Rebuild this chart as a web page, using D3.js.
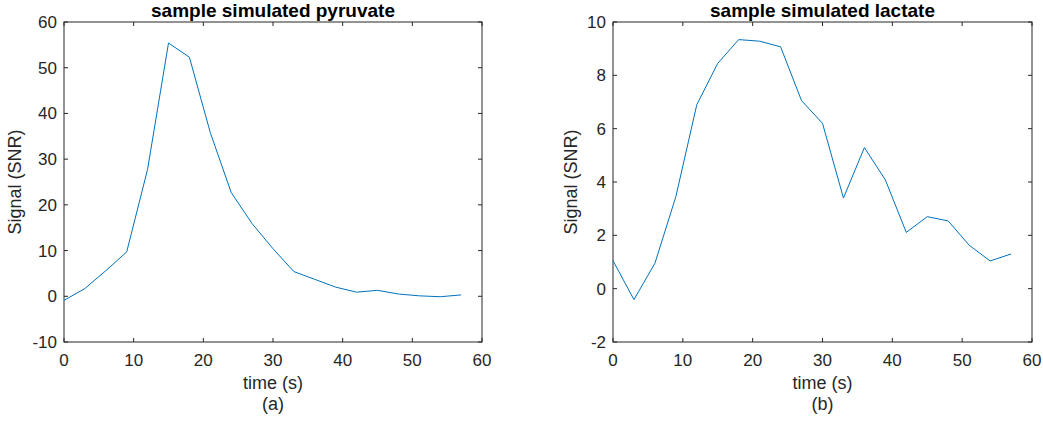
<!DOCTYPE html>
<html>
<head>
<meta charset="utf-8">
<script src="https://cdn.jsdelivr.net/npm/d3@7"></script>
<style>
  body { margin: 0; background: #fff; }
  svg { font-family: "Liberation Sans", Arial, sans-serif; }
</style>
</head>
<body>
<svg width="1043" height="423"></svg>
<script>
// time points (s)
const time = [0, 3, 6, 9, 12, 15, 18, 21, 24, 27, 30, 33, 36, 39, 42, 45, 48, 51, 54, 57];

const pyruvate = [-0.9, 1.7, 5.6, 9.7, 27.8, 55.4, 52.3, 35.8, 22.7, 15.9,
                  10.4, 5.4, 3.7, 2.0, 0.9, 1.3, 0.5, 0.1, -0.1, 0.3];
const lactate = [1.05, -0.41, 0.95, 3.45, 6.9, 8.45, 9.34, 9.28, 9.07, 7.05,
                 6.2, 3.4, 5.29, 4.08, 2.11, 2.7, 2.54, 1.63, 1.04, 1.3];

const xTicks = [0, 10, 20, 30, 40, 50, 60];
const pyrTicks = [-10, 0, 10, 20, 30, 40, 50, 60];
const lacTicks = [-2, 0, 2, 4, 6, 8, 10];

const panels = [
    {title: "sample simulated pyruvate", tag: "(a)", values: pyruvate, yDomain: [-10, 60], yTicks: pyrTicks, left: 64, right: 482, labelOff: 43},
    {title: "sample simulated lactate", tag: "(b)", values: lactate, yDomain: [-2, 10], yTicks: lacTicks, left: 613, right: 1032, labelOff: 36}
];

const plotTop = 22, plotBottom = 342;
const axisColor = "#262626";
const svg = d3.select("svg");

panels.forEach(p => {
    const x = d3.scaleLinear().domain([0, 60]).range([p.left, p.right]);
    const y = d3.scaleLinear().domain(p.yDomain).range([plotBottom, plotTop]);
    const g = svg.append("g");

    // box
    g.append("rect")
        .attr("x", p.left).attr("y", plotTop)
        .attr("width", p.right - p.left).attr("height", plotBottom - plotTop)
        .attr("fill", "none").attr("stroke", axisColor).attr("stroke-width", 1);

    // inward ticks, bottom/top and left/right
    const tl = 4;
    xTicks.forEach(t => {
        g.append("line").attr("x1", x(t)).attr("x2", x(t)).attr("y1", plotBottom).attr("y2", plotBottom - tl)
            .attr("stroke", axisColor);
        g.append("line").attr("x1", x(t)).attr("x2", x(t)).attr("y1", plotTop).attr("y2", plotTop + tl)
            .attr("stroke", axisColor);
        g.append("text").attr("x", x(t)).attr("y", plotBottom + 24)
            .attr("text-anchor", "middle").attr("font-size", 17).attr("fill", axisColor)
            .text(t);
    });
    p.yTicks.forEach(t => {
        g.append("line").attr("x1", p.left).attr("x2", p.left + tl).attr("y1", y(t)).attr("y2", y(t))
            .attr("stroke", axisColor);
        g.append("line").attr("x1", p.right).attr("x2", p.right - tl).attr("y1", y(t)).attr("y2", y(t))
            .attr("stroke", axisColor);
        g.append("text").attr("x", p.left - 7).attr("y", y(t) + 6)
            .attr("text-anchor", "end").attr("font-size", 17).attr("fill", axisColor)
            .text(t);
    });

    // data line
    const line = d3.line().x((d, i) => x(time[i])).y(d => y(d));
    g.append("path")
        .datum(p.values)
        .attr("d", line)
        .attr("fill", "none")
        .attr("stroke", "#0072BD")
        .attr("stroke-width", 1);

    const cx = (p.left + p.right) / 2;
    g.append("text").attr("x", cx).attr("y", 17)
        .attr("text-anchor", "middle").attr("font-size", 19).attr("font-weight", "bold")
        .attr("fill", "#000").text(p.title);
    g.append("text").attr("x", cx).attr("y", 389)
        .attr("text-anchor", "middle").attr("font-size", 18).attr("fill", axisColor)
        .text("time (s)");
    g.append("text").attr("x", cx).attr("y", 410)
        .attr("text-anchor", "middle").attr("font-size", 18).attr("fill", axisColor)
        .text(p.tag);
    g.append("text")
        .attr("transform", `translate(${p.left - p.labelOff},${(plotTop + plotBottom) / 2}) rotate(-90)`)
        .attr("text-anchor", "middle").attr("font-size", 18).attr("fill", axisColor)
        .text("Signal (SNR)");
});
</script>
</body>
</html>
